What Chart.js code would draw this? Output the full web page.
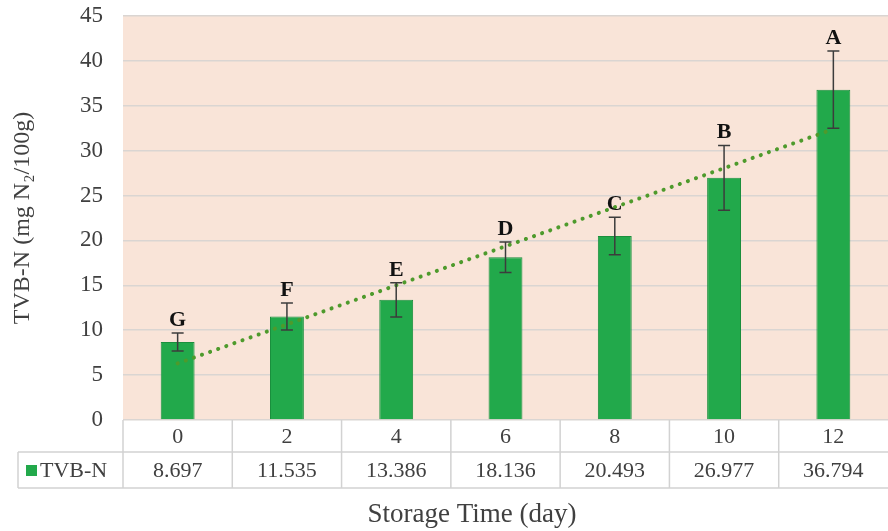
<!DOCTYPE html>
<html>
<head>
<meta charset="utf-8">
<script src="https://cdn.jsdelivr.net/npm/chart.js@4"></script>
<style>
  html, body { margin: 0; padding: 0; background: #ffffff; }
  #wrap { width: 888px; height: 531px; position: relative; }
</style>
</head>
<body>
<div id="wrap"><canvas id="tvbnChart" width="888" height="531"></canvas></div>
<script>
// Storage time categories (days)
const days = ['0', '2', '4', '6', '8', '10', '12'];
// TVB-N means and error bar half-lengths
const tvbn = [8.697, 11.535, 13.386, 18.136, 20.493, 26.977, 36.794];
const tvbnErr = [1.0, 1.5, 1.9, 1.7, 2.1, 3.6, 4.3];
// Significance letters above bars
const letters = ['G', 'F', 'E', 'D', 'C', 'B', 'A'];
// Linear trendline value at first and last day
const trendEnds = [6.3, 32.4];
// Y axis range
const yMin = 0, yMax = 45, yStep = 5;

const serif = '"Liberation Serif", "Times New Roman", serif';
const textColor = '#404040';
const tableLine = '#d2d2d2';

const trendData = days.map((d, i) => i === 0 ? trendEnds[0] : (i === days.length - 1 ? trendEnds[1] : null));

// Peach plot background
const plotBg = {
    id: 'plotBg',
    beforeDraw(chart) {
        const { ctx, chartArea: a } = chart;
        ctx.save();
        ctx.fillStyle = '#ffffff';
        ctx.fillRect(0, 0, chart.width, chart.height);
        ctx.fillStyle = '#f9e4d8';
        ctx.fillRect(a.left, a.top, a.right - a.left, a.bottom - a.top);
        ctx.restore();
    }
};

// Error bars and letters
const errorBars = {
    id: 'errorBars',
    afterDatasetsDraw(chart) {
        const { ctx } = chart;
        const x = chart.scales.x, y = chart.scales.y;
        ctx.save();
        ctx.strokeStyle = '#3c3c3c';
        ctx.lineWidth = 1.5;
        tvbn.forEach((v, i) => {
            const px = x.getPixelForValue(i);
            const top = y.getPixelForValue(v + tvbnErr[i]);
            const bot = y.getPixelForValue(v - tvbnErr[i]);
            ctx.beginPath();
            ctx.moveTo(px, top); ctx.lineTo(px, bot);
            ctx.moveTo(px - 6, top); ctx.lineTo(px + 6, top);
            ctx.moveTo(px - 6, bot); ctx.lineTo(px + 6, bot);
            ctx.stroke();
            ctx.fillStyle = '#111111';
            ctx.font = 'bold 22px ' + serif;
            ctx.textAlign = 'center';
            ctx.textBaseline = 'alphabetic';
            ctx.fillText(letters[i], px, top - 7);
        });
        ctx.restore();
    }
};

// Data table under the plot, legend key and axis title
const dataTable = {
    id: 'dataTable',
    afterDraw(chart) {
        const { ctx, chartArea: a } = chart;
        const x = chart.scales.x;
        const row1 = a.bottom, row2 = a.bottom + 32, row3 = a.bottom + 68;
        const colW = (a.right - a.left) / days.length;
        const legendLeft = 18;
        ctx.save();
        ctx.strokeStyle = tableLine;
        ctx.lineWidth = 1.5;
        ctx.beginPath();
        ctx.moveTo(legendLeft, row2); ctx.lineTo(a.right, row2);
        ctx.moveTo(legendLeft, row3); ctx.lineTo(a.right, row3);
        ctx.moveTo(legendLeft, row2); ctx.lineTo(legendLeft, row3);
        for (let i = 0; i < days.length; i++) {
            const lx = a.left + colW * i;
            ctx.moveTo(lx, row1); ctx.lineTo(lx, row3);
        }
        ctx.stroke();

        ctx.fillStyle = textColor;
        ctx.font = '22px ' + serif;
        ctx.textAlign = 'center';
        ctx.textBaseline = 'middle';
        days.forEach((d, i) => {
            const px = x.getPixelForValue(i);
            ctx.fillText(d, px, (row1 + row2) / 2 + 1);
            ctx.fillText(tvbn[i].toFixed(3), px, (row2 + row3) / 2 + 1);
        });

        // legend key
        ctx.fillStyle = '#22a94b';
        ctx.fillRect(26, (row2 + row3) / 2 - 5, 11, 11);
        ctx.fillStyle = textColor;
        ctx.textAlign = 'left';
        ctx.fillText('TVB-N', 40, (row2 + row3) / 2 + 1);

        // x axis title
        ctx.font = '27px ' + serif;
        ctx.textAlign = 'center';
        ctx.textBaseline = 'alphabetic';
        ctx.fillText('Storage Time (day)', 472, 522);
        ctx.restore();
    }
};

new Chart(document.getElementById('tvbnChart'), {
    data: {
        labels: days,
        datasets: [{
            type: 'line',
            label: 'Trend',
            data: trendData,
            spanGaps: true,
            borderColor: '#4e9a2c',
            borderWidth: 4,
            borderDash: [0.1, 8.5],
            borderCapStyle: 'round',
            pointRadius: 0,
            fill: false,
            order: 0
        }, {
            type: 'bar',
            label: 'TVB-N',
            data: tvbn,
            backgroundColor: '#22a94b',
            borderColor: '#1b8f3d',
            borderWidth: 1,
            categoryPercentage: 1,
            barPercentage: 0.31,
            order: 1
        }]
    },
    options: {
        responsive: false,
        animation: false,
        layout: { autoPadding: false, padding: { top: 16, right: 0, bottom: 111, left: 0 } },
        plugins: {
            legend: { display: false },
            tooltip: { enabled: false }
        },
        scales: {
            x: {
                display: false
            },
            y: {
                min: yMin,
                max: yMax,
                afterFit(scale) {
                    scale.width = 123;
                    scale.paddingTop = 0;
                    scale.paddingBottom = 0;
                },
                ticks: {
                    stepSize: yStep,
                    padding: 20,
                    color: textColor,
                    font: { family: serif, size: 23 }
                },
                grid: {
                    color: '#dad5d2',
                    lineWidth: 1.5,
                    drawTicks: false
                },
                border: { display: false },
                title: {
                    display: true,
                    text: 'TVB-N (mg N\u2082/100g)',
                    color: textColor,
                    font: { family: serif, size: 24 },
                    padding: { top: 8, bottom: 0 }
                }
            }
        }
    },
    plugins: [plotBg, errorBars, dataTable]
});
</script>
</body>
</html>
